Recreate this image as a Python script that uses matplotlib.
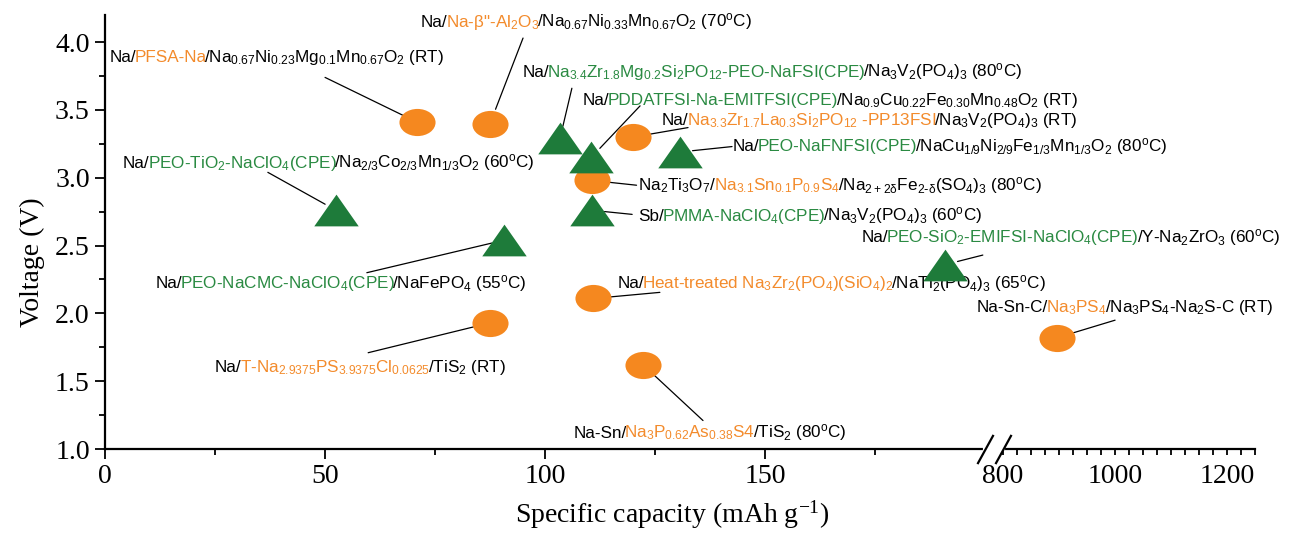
import numpy as np
import matplotlib.pyplot as plt
from matplotlib.path import Path
from matplotlib.transforms import Affine2D
from matplotlib.ticker import FixedLocator, FuncFormatter, MultipleLocator
from matplotlib.offsetbox import TextArea, HPacker, AnnotationBbox

plt.rcParams['mathtext.default'] = 'regular'

ORANGE = '#F5881F'
GREEN = '#1E7B3A'
TXT_ORANGE = '#F38B2C'
TXT_GREEN = '#2A8A42'

# capacity (mAh/g), voltage (V), electrolyte kind
capacity = [70.9, 87.5, 103.4, 110.5, 120.0, 130.7, 110.7, 110.7,
            52.5, 90.7, 191.0, 111.0, 896.0, 87.5, 122.3]
voltage = [3.41, 3.40, 3.29, 3.15, 3.30, 3.19, 2.98, 2.76,
           2.76, 2.54, 2.36, 2.11, 1.82, 1.93, 1.62]
kind = ['inorganic', 'inorganic', 'polymer', 'polymer', 'inorganic', 'polymer',
        'inorganic', 'polymer', 'polymer', 'polymer', 'polymer', 'inorganic',
        'inorganic', 'inorganic', 'inorganic']

# label text split in (string, colour) pieces: k = black, o = orange, g = green
labels = [
    [('Na/', 'k'), ('PFSA-Na', 'o'),
     ('/Na$_{0.67}$Ni$_{0.23}$Mg$_{0.1}$Mn$_{0.67}$O$_{2}$ (RT)', 'k')],
    [('Na/', 'k'), ('Na-β"-Al$_{2}$O$_{3}$', 'o'),
     ('/Na$_{0.67}$Ni$_{0.33}$Mn$_{0.67}$O$_{2}$ (70$^{o}$C)', 'k')],
    [('Na/', 'k'), ('Na$_{3.4}$Zr$_{1.8}$Mg$_{0.2}$Si$_{2}$PO$_{12}$-PEO-NaFSI(CPE)', 'g'),
     ('/Na$_{3}$V$_{2}$(PO$_{4}$)$_{3}$ (80$^{o}$C)', 'k')],
    [('Na/', 'k'), ('PDDATFSI-Na-EMITFSI(CPE)', 'g'),
     ('/Na$_{0.9}$Cu$_{0.22}$Fe$_{0.30}$Mn$_{0.48}$O$_{2}$ (RT)', 'k')],
    [('Na/', 'k'), ('Na$_{3.3}$Zr$_{1.7}$La$_{0.3}$Si$_{2}$PO$_{12}$ -PP13FSI', 'o'),
     ('/Na$_{3}$V$_{2}$(PO$_{4}$)$_{3}$ (RT)', 'k')],
    [('Na/', 'k'), ('PEO-NaFNFSI(CPE)', 'g'),
     ('/NaCu$_{1/9}$Ni$_{2/9}$Fe$_{1/3}$Mn$_{1/3}$O$_{2}$ (80$^{o}$C)', 'k')],
    [('Na$_{2}$Ti$_{3}$O$_{7}$/', 'k'), ('Na$_{3.1}$Sn$_{0.1}$P$_{0.9}$S$_{4}$', 'o'),
     (r'/Na$_{2+2δ}$Fe$_{2\text{-}δ}$(SO$_{4}$)$_{3}$ (80$^{o}$C)', 'k')],
    [('Sb/', 'k'), ('PMMA-NaClO$_{4}$(CPE)', 'g'),
     ('/Na$_{3}$V$_{2}$(PO$_{4}$)$_{3}$ (60$^{o}$C)', 'k')],
    [('Na/', 'k'), ('PEO-TiO$_{2}$-NaClO$_{4}$(CPE)', 'g'),
     ('/Na$_{2/3}$Co$_{2/3}$Mn$_{1/3}$O$_{2}$ (60$^{o}$C)', 'k')],
    [('Na/', 'k'), ('PEO-NaCMC-NaClO$_{4}$(CPE)', 'g'),
     ('/NaFePO$_{4}$ (55$^{o}$C)', 'k')],
    [('Na/', 'k'), ('PEO-SiO$_{2}$-EMIFSI-NaClO$_{4}$(CPE)', 'g'),
     ('/Y-Na$_{2}$ZrO$_{3}$ (60$^{o}$C)', 'k')],
    [('Na/', 'k'), ('Heat-treated Na$_{3}$Zr$_{2}$(PO$_{4}$)(SiO$_{4}$)$_{2}$', 'o'),
     ('/NaTi$_{2}$(PO$_{4}$)$_{3}$ (65$^{o}$C)', 'k')],
    [('Na-Sn-C/', 'k'), ('Na$_{3}$PS$_{4}$', 'o'),
     ('/Na$_{3}$PS$_{4}$-Na$_{2}$S-C (RT)', 'k')],
    [('Na/', 'k'), ('T-Na$_{2.9375}$PS$_{3.9375}$Cl$_{0.0625}$', 'o'),
     ('/TiS$_{2}$ (RT)', 'k')],
    [('Na-Sn/', 'k'), ('Na$_{3}$P$_{0.62}$As$_{0.38}$S4', 'o'),
     ('/TiS$_{2}$ (80$^{o}$C)', 'k')],
]

# where each label sits (left edge, middle) and where its leader line starts
label_xy = [(1.1, 3.89), (71.8, 4.15), (94.8, 3.78), (108.6, 3.57), (126.6, 3.42),
            (142.7, 3.23), (121.1, 2.94), (121.1, 2.72), (4.1, 3.11), (11.4, 2.22),
            (172.0, 2.56), (116.4, 2.22), (198.2, 2.04), (25.0, 1.60), (106.4, 1.12)]
leader_xy = [(50.0, 3.74), (95.0, 4.03), (106.1, 3.66), (121.6, 3.53), (132.5, 3.37),
             (142.5, 3.23), (120.8, 2.945), (119.8, 2.73), (37.0, 3.04), (59.5, 2.30),
             (199.5, 2.43), (126.1, 2.155), (1000.0, 1.95), (59.8, 1.71), (135.9, 1.21)]

colors = {'k': 'black', 'o': TXT_ORANGE, 'g': TXT_GREEN}

# broken x axis: 0-200 linear, short gap, then 800-1250 compressed
GAP = 4.1
K = 0.1273


def fwd(x):
    x = np.asarray(x, dtype=float)
    return np.where(x <= 200, x,
                    np.where(x < 800, 200 + (x - 200) * GAP / 600,
                             200 + GAP + (x - 800) * K))


def inv(u):
    u = np.asarray(u, dtype=float)
    return np.where(u <= 200, u,
                    np.where(u < 200 + GAP, 200 + (u - 200) * 600 / GAP,
                             800 + (u - 200 - GAP) / K))


ellipse = Path.unit_circle().transformed(Affine2D().scale(1.33, 1.0))
triangle = Path([(0, 1), (-1.4, -1), (1.4, -1), (0, 1)],
                [Path.MOVETO, Path.LINETO, Path.LINETO, Path.CLOSEPOLY])

fig = plt.figure(figsize=(12.89, 5.38), dpi=100)
ax = fig.add_axes([0.0815, 0.1654, 0.8922, 0.8067])
ax.set_xscale('function', functions=(fwd, inv))
ax.set_xlim(0, 1250)
ax.set_ylim(1.0, 4.2)

cap = np.array(capacity)
volt = np.array(voltage)
is_inorg = np.array([k == 'inorganic' for k in kind])
ax.scatter(cap[is_inorg], volt[is_inorg], marker=ellipse, s=26 ** 2,
           color=ORANGE, lw=0, zorder=5, clip_on=False)
ax.scatter(cap[~is_inorg], volt[~is_inorg], marker=triangle, s=32 ** 2,
           color=GREEN, lw=0, zorder=5, clip_on=False)

for i, parts in enumerate(labels):
    areas = [TextArea(s, textprops=dict(color=colors[c], fontsize=12.3,
                                        family='Liberation Sans'))
             for s, c in parts]
    box = HPacker(children=areas, align='baseline', pad=0, sep=-1.5)
    ab = AnnotationBbox(box, label_xy[i], xycoords='data', frameon=False,
                        box_alignment=(0, 0.5), pad=0, annotation_clip=False)
    ax.add_artist(ab)
    shrink = 11 if kind[i] == 'inorganic' else 9
    ax.annotate('', xy=(capacity[i], voltage[i]), xytext=leader_xy[i],
                arrowprops=dict(arrowstyle='-', color='black', lw=0.9,
                                shrinkA=0, shrinkB=shrink),
                zorder=3, annotation_clip=False)

for side in ['top', 'right']:
    ax.spines[side].set_visible(False)
for side in ['left', 'bottom']:
    ax.spines[side].set_linewidth(1.6)

ax.xaxis.set_major_locator(FixedLocator([0, 50, 100, 150]))
ax.xaxis.set_minor_locator(FixedLocator([25, 75, 125, 175] + list(range(800, 1251, 25))))
ax.xaxis.set_minor_formatter(
    FuncFormatter(lambda v, p: f'{v:.0f}' if round(v) in (800, 1000, 1200) else ''))
ax.yaxis.set_major_locator(MultipleLocator(0.5))
ax.yaxis.set_minor_locator(MultipleLocator(0.25))
ax.yaxis.set_major_formatter(FuncFormatter(lambda v, p: f'{v:.1f}'))

ax.tick_params(which='major', length=7, width=1.3, direction='out',
               labelsize=20, labelfontfamily='Liberation Serif', pad=4)
ax.tick_params(which='minor', length=4.5, width=1.3, direction='out',
               labelsize=20, labelfontfamily='Liberation Serif', pad=6.5)

# break marks on the x axis
ax.plot([200, 800], [1.0, 1.0], color='white', lw=3, zorder=6, clip_on=False)
slash = Path([(-0.55, -1), (0.55, 1)], [Path.MOVETO, Path.LINETO])
ax.plot([200, 800], [1.0, 1.0], ls='none', marker=slash, ms=21, mew=1.6,
        mec='black', zorder=7, clip_on=False)

ax.set_xlabel('Specific capacity (mAh g$^{-1}$)', fontsize=20,
              family='Liberation Serif')
ax.set_ylabel('Voltage (V)', fontsize=20, family='Liberation Serif')
ax.xaxis.set_label_coords(0.493, -0.115)
ax.yaxis.set_label_coords(-0.052, 0.43)

fig.savefig('out.png', dpi=100)
